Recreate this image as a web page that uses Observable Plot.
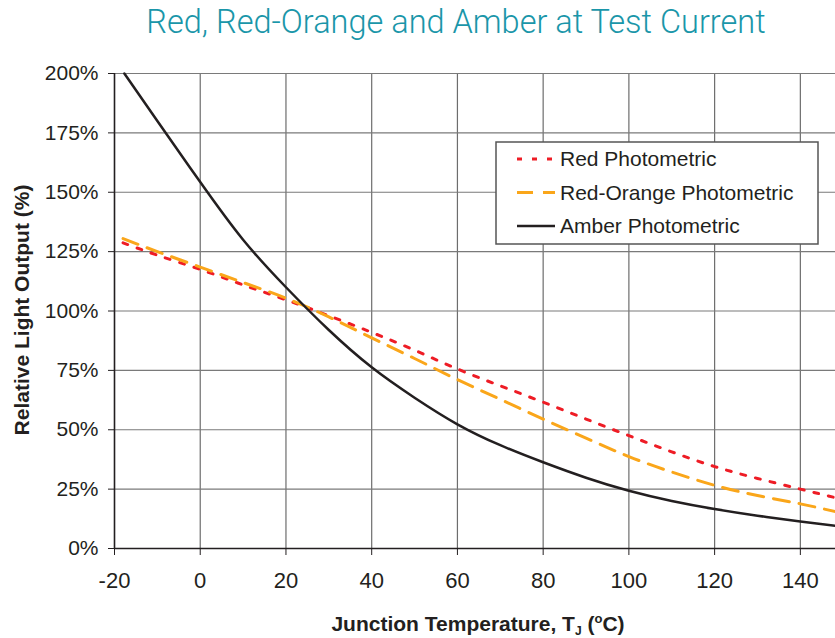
<!DOCTYPE html>
<html>
<head>
<meta charset="utf-8">
<script src="https://cdn.jsdelivr.net/npm/d3@7"></script>
<script src="https://cdn.jsdelivr.net/npm/@observablehq/plot@0.6"></script>
<style>
  html, body { margin: 0; padding: 0; background: #fff; }
  #wrap { position: relative; width: 835px; height: 638px; overflow: hidden; font-family: "Liberation Sans", Arial, sans-serif; }
  #chart { position: absolute; left: 0; top: 0; }
  #title { position: absolute; left: 0; width: 912px; top: 3px; text-align: center; font-family: Roboto, "Liberation Sans", sans-serif; font-weight: 300; font-size: 32.5px; color: #1a96a9; white-space: nowrap; }
  #ytitle { position: absolute; left: 21px; top: 310px; transform: translate(-50%, -50%) rotate(-90deg); }
  .axt { font-weight: bold; font-size: 21px; color: #231f20; white-space: nowrap; line-height: 1; }
  #xtitle { position: absolute; left: 478px; top: 613px; transform: translateX(-50%); }
  .sub { font-size: 12px; position: relative; top: 4px; }
  .sup { font-size: 13px; position: relative; top: -8px; }
  #legend { position: absolute; left: 495px; top: 141px; }
</style>
</head>
<body>
<div id="wrap">
  <div id="chart"></div>
  <div id="title">Red, Red-Orange and Amber at Test Current</div>
  <div id="ytitle" class="axt">Relative Light Output (%)</div>
  <div id="xtitle" class="axt">Junction Temperature, T<span class="sub">J</span> (<span class="sup">o</span>C)</div>
  <div id="legend"></div>
</div>
<script>
// Data
const tempC = [-18, -10, 0, 10, 20, 30, 40, 50, 60, 70, 80, 90, 100, 110, 120, 130, 140, 148.2];
const redPhotometric = [128.7, 123.5, 117.5, 111, 104.7, 98, 91, 83.5, 75.6, 68.5, 61.6, 54.5, 47.5, 40.7, 34.5, 29.5, 25, 21.4];
const redOrangePhotometric = [130.5, 125, 118.5, 112, 105.4, 97.5, 88.7, 80, 71.1, 62.8, 54.5, 46.5, 38.7, 32.2, 26.6, 22.3, 18.8, 15.5];
const amberTempC = [-17.7, -10, 0, 10, 20, 30, 40, 50, 60, 70, 80, 90, 100, 110, 120, 130, 140, 148.2];
const amberPhotometric = [200, 180, 154.3, 130, 110, 92, 76.3, 63.5, 52.3, 43.5, 36.3, 29.8, 24.3, 20, 16.6, 13.8, 11.4, 9.6];
const xTicks = [-20, 0, 20, 40, 60, 80, 100, 120, 140];
const yTicks = [0, 25, 50, 75, 100, 125, 150, 175, 200];
const seriesNames = ["Red Photometric", "Red-Orange Photometric", "Amber Photometric"];

const seriesStyle = {
  "Red Photometric": {stroke: "#ee1c25", width: 3, dash: "5,10"},
  "Red-Orange Photometric": {stroke: "#faa61a", width: 3, dash: "16,10"},
  "Amber Photometric": {stroke: "#231f20", width: 2.5, dash: null}
};

const redData = tempC.map((t, i) => ({t, v: redPhotometric[i]}));
const orangeData = tempC.map((t, i) => ({t, v: redOrangePhotometric[i]}));
const amberData = amberTempC.map((t, i) => ({t, v: amberPhotometric[i]}));

const chart = Plot.plot({
  width: 835,
  height: 638,
  marginLeft: 114,
  marginRight: 0,
  marginTop: 73,
  marginBottom: 90,
  style: {fontFamily: "'Liberation Sans', Arial, sans-serif", color: "#231f20", background: "white"},
  x: {domain: [-20, 148.2], ticks: xTicks},
  y: {domain: [0, 200], ticks: yTicks},
  marks: [
    Plot.gridX(xTicks, {stroke: "#6d6d6d", strokeOpacity: 1, strokeWidth: 1.2}),
    Plot.gridY(yTicks, {stroke: "#7a7a7a", strokeOpacity: 1, strokeWidth: 1.2}),
    Plot.ruleX([-20], {stroke: "#231f20", strokeWidth: 1.5}),
    Plot.ruleY([0], {stroke: "#231f20", strokeWidth: 1.5}),
    Plot.axisY(yTicks, {tickSize: 6, tickPadding: 10, tickFormat: d => d + "%", fontSize: 21, label: null, stroke: "#231f20"}),
    Plot.axisX(xTicks, {anchor: "bottom", tickSize: 7, tickPadding: 17, tickFormat: d => String(d), fontSize: 22, label: null, stroke: "#231f20"}),
    Plot.line(redData, {x: "t", y: "v", curve: "natural", stroke: seriesStyle["Red Photometric"].stroke, strokeWidth: 3, strokeDasharray: seriesStyle["Red Photometric"].dash}),
    Plot.line(orangeData, {x: "t", y: "v", curve: "natural", stroke: seriesStyle["Red-Orange Photometric"].stroke, strokeWidth: 3, strokeDasharray: seriesStyle["Red-Orange Photometric"].dash}),
    Plot.line(amberData, {x: "t", y: "v", curve: "natural", stroke: seriesStyle["Amber Photometric"].stroke, strokeWidth: 2.5})
  ]
});
document.getElementById("chart").appendChild(chart);

// Legend
const lw = 322, lh = 102;
const leg = d3.select("#legend").append("svg").attr("width", lw + 2).attr("height", lh + 2);
leg.append("rect").attr("x", 1).attr("y", 1).attr("width", lw).attr("height", lh)
  .attr("fill", "white").attr("stroke", "#555").attr("stroke-width", 1.5);
seriesNames.forEach((name, i) => {
  const cy = 18 + i * 33.5;
  const s = seriesStyle[name];
  leg.append("line").attr("x1", 22).attr("x2", 60).attr("y1", cy).attr("y2", cy)
    .attr("stroke", s.stroke).attr("stroke-width", s.width)
    .attr("stroke-dasharray", s.dash);
  leg.append("text").attr("x", 65).attr("y", cy).attr("dy", "0.35em")
    .attr("font-family", "'Liberation Sans', Arial, sans-serif").attr("font-size", 21)
    .attr("fill", "#231f20").text(name);
});
</script>
</body>
</html>
